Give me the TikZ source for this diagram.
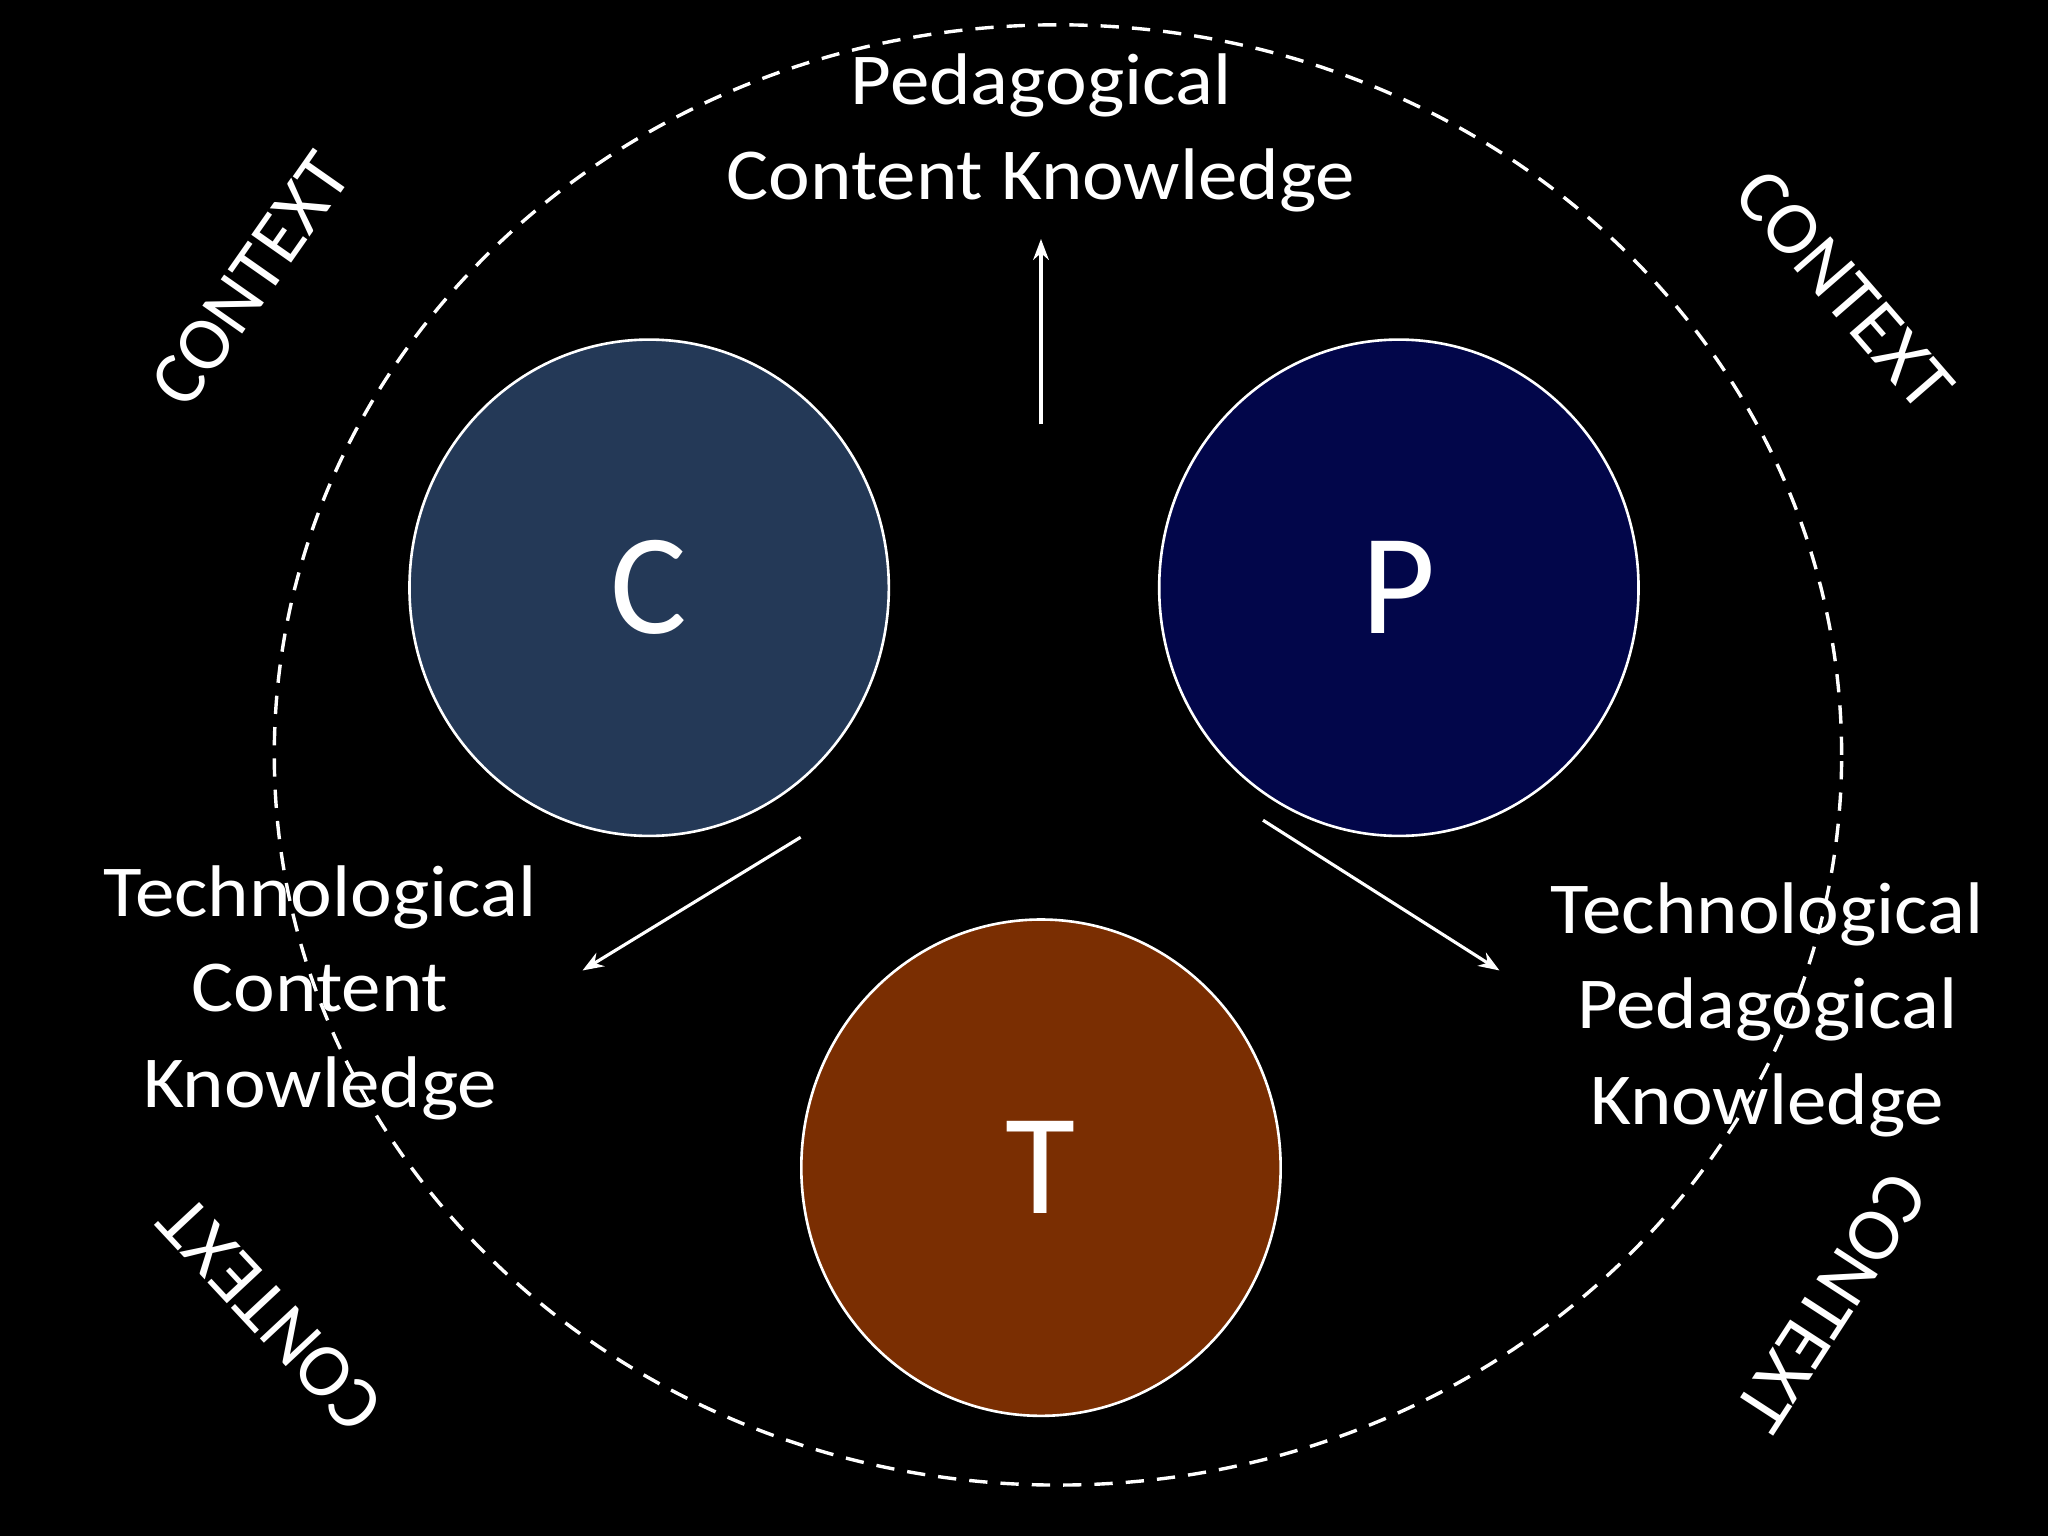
\documentclass[tikz,border=0pt]{standalone}
\usepackage{fontspec}
\setmainfont{Carlito}
\usetikzlibrary{shapes.geometric,arrows.meta}
\definecolor{cC}{HTML}{243957}
\definecolor{cP}{HTML}{02064A}
\definecolor{cT}{HTML}{7A2E02}
\begin{document}
\begin{tikzpicture}[x=0.5pt,y=-0.5pt,
  big/.style={ellipse,draw=white,line width=1pt,minimum width=183.5pt,minimum height=190pt,inner sep=0pt,text=white,font=\fontsize{55}{60}\selectfont},
  lbl/.style={text=white,font=\fontsize{28}{36.5}\selectfont,align=center,xscale=1.08},
  ctx/.style={text=white,font=\fontsize{29}{32}\selectfont},
  arr/.style={draw=white,line width=1.2pt,-{Stealth[length=8pt,width=6pt]}}]
\fill[black] (0,0) rectangle (1568,1176);
\useasboundingbox (0,0) rectangle (1568,1176);
\node[ellipse,draw=white,dashed,line width=1.3pt,dash pattern=on 7pt off 5pt,minimum width=600pt,minimum height=559pt] (ring) at (810,578) {};
\node[big,fill=cC] (C) at (497,450) {C};
\node[big,fill=cP] (P) at (1071,450) {P};
\node[big,fill=cT] (T) at (797,894) {T};
\node[lbl] (pck) at (797,102) {Pedagogical\\Content Knowledge};
\node[lbl] (tck) at (245,760) {Technological\\Content\\Knowledge};
\node[lbl] (tpk) at (1353,773) {Technological\\Pedagogical\\Knowledge};
\coordinate (a1) at (797,325); \coordinate (b1) at (797,183);
\coordinate (a2) at (613,641); \coordinate (b2) at (446,743);
\coordinate (a3) at (967,628); \coordinate (b3) at (1148,743);
\draw[arr] (a1) -- (b1);
\draw[arr] (a2) -- (b2);
\draw[arr] (a3) -- (b3);
\node[ctx,rotate=55] (k1) at (192,214) {CONTEXT};
\node[ctx,rotate=-49] (k2) at (1412,222) {CONTEXT};
\node[ctx,rotate=133] (k3) at (207,1006) {CONTEXT};
\node[ctx,rotate=-123] (k4) at (1402,997) {CONTEXT};
\end{tikzpicture}
\end{document}
